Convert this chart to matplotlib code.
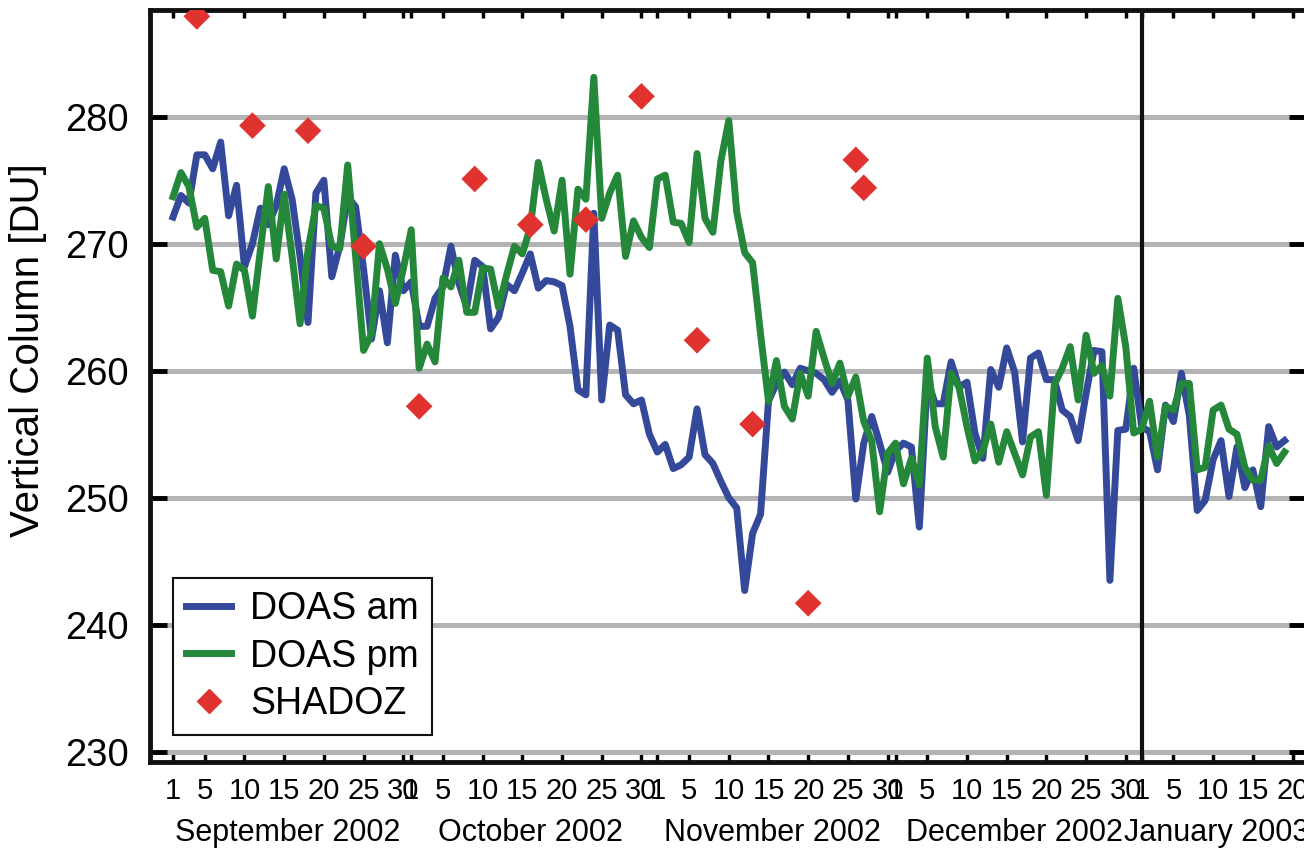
import numpy as np
import matplotlib.pyplot as plt
from matplotlib.lines import Line2D

plt.rcParams['font.family'] = ['Liberation Sans', 'DejaVu Sans']

# daily ozone columns, day 0 = 1 September 2002
days = np.arange(141)

doas_am = [
    272.1, 273.8, 273.2, 277.0, 277.0, 275.9, 278.0, 272.2, 274.6, 268.2,
    270.0, 272.8, 271.5, 273.0, 275.9, 273.5, 269.0, 263.8, 274.0, 275.0,
    267.4, 269.8, 273.7, 272.9, 268.0, 262.5, 266.3, 262.2, 269.1, 266.3,
    267.0, 263.5, 263.5, 265.7, 266.6, 269.8, 266.9, 265.0, 268.7, 268.2,
    263.3, 264.2, 266.8, 266.3, 267.7, 269.2, 266.5, 267.1, 267.0, 266.7,
    263.5, 258.5, 258.1, 272.4, 257.7, 263.6, 263.2, 258.1, 257.4, 257.7,
    255.0, 253.6, 254.2, 252.3, 252.6, 253.2, 257.0, 253.4, 252.7, 251.3,
    250.0, 249.2, 242.7, 247.2, 248.7, 257.6, 259.0, 259.9, 258.9, 260.2,
    260.0, 259.8, 259.3, 258.3, 259.2, 257.7, 249.9, 254.3, 256.4, 254.3,
    252.0, 253.7, 254.3, 254.0, 247.7, 259.3, 257.4, 257.4, 260.7, 258.7,
    259.1, 255.1, 253.1, 260.1, 258.7, 261.8, 259.9, 254.4, 261.0, 261.4,
    259.3, 259.3, 256.9, 256.4, 254.5, 258.2, 261.6, 261.5, 243.5, 255.3,
    255.4, 260.2, 255.6, 255.2, 252.2, 257.3, 256.0, 259.8, 256.5, 249.0,
    249.8, 253.0, 254.5, 250.1, 254.0, 250.8, 252.2, 249.3, 255.6, 254.0,
    254.5,
]

doas_pm = [
    273.7, 275.6, 274.5, 271.3, 272.0, 267.9, 267.8, 265.1, 268.4, 267.9,
    264.3, 269.5, 274.5, 268.8, 273.9, 269.0, 263.7, 269.5, 273.0, 272.8,
    269.8, 269.6, 276.2, 269.0, 261.6, 262.9, 270.0, 268.0, 265.3, 268.0,
    271.1, 260.2, 262.1, 260.7, 267.3, 266.6, 268.7, 264.6, 264.6, 268.1,
    268.0, 265.0, 267.5, 269.8, 269.2, 271.3, 276.4, 273.5, 271.0, 275.0,
    267.6, 274.3, 273.5, 283.1, 272.0, 274.0, 275.4, 269.0, 271.8, 270.5,
    269.7, 275.1, 275.4, 271.7, 271.6, 270.1, 277.1, 272.0, 270.9, 276.5,
    279.7, 272.5, 269.3, 268.5, 262.9, 257.6, 260.8, 257.2, 256.2, 259.8,
    258.0, 263.1, 261.0, 259.0, 260.6, 258.0, 259.5, 256.0, 254.5, 248.9,
    253.5, 254.3, 251.1, 253.1, 251.0, 261.0, 255.6, 253.2, 259.8, 258.7,
    255.6, 252.9, 253.7, 255.8, 252.8, 255.2, 253.5, 251.8, 254.8, 255.2,
    250.2, 258.9, 260.2, 261.9, 257.7, 262.8, 259.8, 260.4, 258.0, 265.7,
    261.9, 255.1, 255.4, 257.6, 253.2, 257.2, 256.9, 259.0, 259.0, 252.2,
    252.4, 256.9, 257.3, 255.4, 255.0, 252.4, 251.4, 251.4, 254.1, 252.7,
    253.6,
]

shadoz_days = [3, 10, 17, 24, 31, 38, 45, 52, 59, 66, 73, 80, 86, 87]
shadoz_vc = [287.9, 279.3, 278.9, 269.8, 257.2, 275.1, 271.5, 271.9,
             281.6, 262.4, 255.8, 241.7, 276.6, 274.4]

month_starts = [0, 30, 61, 91, 122]
month_lengths = [30, 31, 30, 31, 20]  # January only shown up to the 20th
month_names = ['September 2002', 'October 2002', 'November 2002',
               'December 2002', 'January 2003']
day_marks = [1, 5, 10, 15, 20, 25, 30]

blue = '#34499a'
green = '#24873a'
red = '#e0332f'
grey = '#b4b4b6'
lw = 5

fig = plt.figure(figsize=(13.04, 8.5), dpi=100)
ax = fig.add_axes([150 / 1304, 88 / 850, 1156 / 1304, 752 / 850])

ax.plot(days, doas_am, color=blue, lw=lw, zorder=3)
ax.plot(days, doas_pm, color=green, lw=lw, zorder=4)
ax.scatter(shadoz_days, shadoz_vc, marker='D', s=185, color=red,
           edgecolors='none', zorder=5)

ax.set_xlim(-2.9, 142.7)
ax.set_ylim(229.2, 288.4)

# day labels on the major ticks, month boundaries on the minor ticks
tick_pos = []
tick_lab = []
for start, length in zip(month_starts, month_lengths):
    for dm in day_marks:
        if dm <= length:
            tick_pos.append(start + dm - 1)
            tick_lab.append(str(dm))
ax.set_xticks(tick_pos, tick_lab)
ax.set_xticks(month_starts, minor=True)
ax.tick_params(axis='x', which='major', direction='in', length=6, width=2.5,
               top=True, bottom=True, labelsize=21, pad=11)
ax.tick_params(axis='x', which='minor', direction='in', length=12, width=3.5,
               top=True, bottom=True)

ax.set_yticks(range(230, 290, 10))
ax.tick_params(axis='y', direction='in', length=12, width=3.5,
               left=True, right=True, labelsize=27.5, pad=15)

ax.set_axisbelow(True)
ax.grid(which='minor', axis='x', color=grey, lw=3.6)
ax.grid(which='major', axis='y', color=grey, lw=3.6)
ax.axvline(month_starts[-1], color='#111111', lw=3, zorder=2)

for sp in ax.spines.values():
    sp.set_linewidth(3.5)
    sp.set_color('#111111')

for start, length, name in zip(month_starts, month_lengths, month_names):
    ax.text(start + (length - 1) / 2, -0.094, name, transform=ax.get_xaxis_transform(),
            ha='center', va='center', fontsize=22, clip_on=False)

ax.set_ylabel('Vertical Column [DU]', fontsize=29)
ax.yaxis.set_label_coords(-0.089, 0.548)

handles = [Line2D([], [], color=blue, lw=lw),
           Line2D([], [], color=green, lw=lw),
           Line2D([], [], color=red, marker='D', markersize=12, lw=0)]
leg = ax.legend(handles, ['DOAS am', 'DOAS pm', 'SHADOZ'], loc='lower left',
                bbox_to_anchor=(0.02, 0.036), borderaxespad=0, fontsize=27,
                handlelength=1.2, handletextpad=0.5, borderpad=0.35,
                labelspacing=0.3, fancybox=False, framealpha=1)
leg.get_frame().set_edgecolor('#111111')
leg.get_frame().set_linewidth(1.5)

fig.savefig('out.png', dpi=100)
